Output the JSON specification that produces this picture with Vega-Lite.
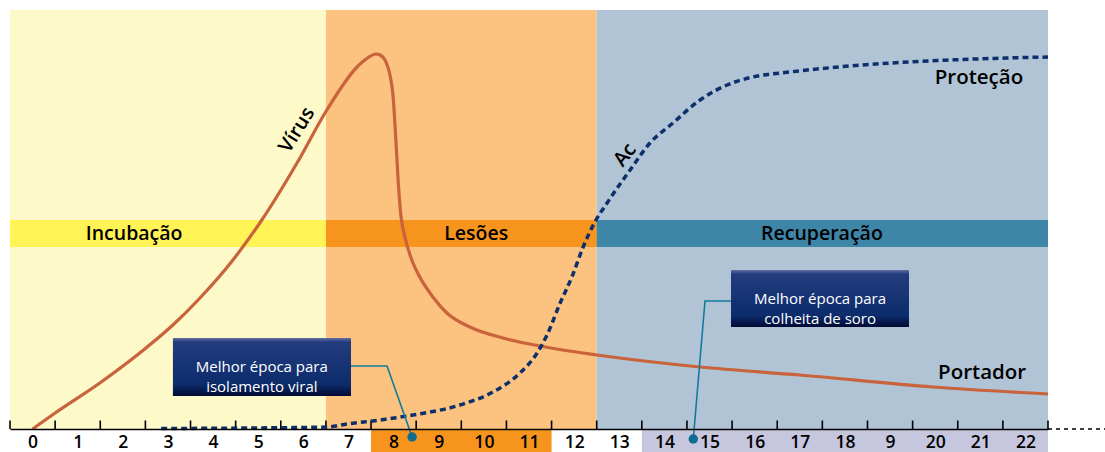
{
  "$schema": "https://vega.github.io/schema/vega-lite/v6.json",
  "width": 1038,
  "height": 419,
  "autosize": {"type": "none"},
  "padding": {"left": 10, "top": 10, "right": 57, "bottom": 23},
  "background": "white",
  "config": {"view": {"stroke": null}, "axisY": {"disable": true}},
  "datasets": {
    "fases": [
      {"fase": "Incubação", "inicio": -0.5, "fim": 6.5, "rotulo_x": 2.25},
      {"fase": "Lesões", "inicio": 6.5, "fim": 12.5, "rotulo_x": 9.83},
      {"fase": "Recuperação", "inicio": 12.5, "fim": 22.5, "rotulo_x": 17.49}
    ],
    "marcas": [
      {"pos": -0.5}, {"pos": 0.5}, {"pos": 1.5}, {"pos": 2.5}, {"pos": 3.5}, {"pos": 4.5}, {"pos": 5.5}, {"pos": 6.5},
      {"pos": 7.5}, {"pos": 8.5}, {"pos": 9.5}, {"pos": 10.5}, {"pos": 11.5}, {"pos": 12.5}, {"pos": 13.5}, {"pos": 14.5},
      {"pos": 15.5}, {"pos": 16.5}, {"pos": 17.5}, {"pos": 18.5}, {"pos": 19.5}, {"pos": 20.5}, {"pos": 21.5}, {"pos": 22.5}
    ],
    "virus": [
      {"dia": 0.0, "carga": 0},
      {"dia": 0.5, "carga": 16},
      {"dia": 1.49, "carga": 46},
      {"dia": 2.54, "carga": 82},
      {"dia": 3.11, "carga": 104},
      {"dia": 3.71, "carga": 131},
      {"dia": 4.44, "carga": 169},
      {"dia": 5.08, "carga": 209},
      {"dia": 5.86, "carga": 266},
      {"dia": 6.52, "carga": 319},
      {"dia": 7.19, "carga": 362},
      {"dia": 7.39, "carga": 370},
      {"dia": 7.61, "carga": 375},
      {"dia": 7.70, "carga": 374},
      {"dia": 7.83, "carga": 367},
      {"dia": 7.92, "carga": 354},
      {"dia": 7.99, "carga": 332},
      {"dia": 8.05, "carga": 289},
      {"dia": 8.10, "carga": 249},
      {"dia": 8.16, "carga": 214},
      {"dia": 8.25, "carga": 192},
      {"dia": 8.43, "carga": 166},
      {"dia": 8.58, "carga": 152},
      {"dia": 8.87, "carga": 132},
      {"dia": 9.18, "carga": 116},
      {"dia": 9.69, "carga": 102},
      {"dia": 10.42, "carga": 91},
      {"dia": 11.24, "carga": 83},
      {"dia": 12.51, "carga": 74},
      {"dia": 14.79, "carga": 62},
      {"dia": 17.0, "carga": 54},
      {"dia": 19.95, "carga": 42},
      {"dia": 22.5, "carga": 35}
    ],
    "ac": [
      {"dia": 2.85, "nivel": 0.5},
      {"dia": 4.82, "nivel": 1},
      {"dia": 6.52, "nivel": 2},
      {"dia": 6.97, "nivel": 5},
      {"dia": 7.70, "nivel": 9},
      {"dia": 8.43, "nivel": 14},
      {"dia": 9.47, "nivel": 24},
      {"dia": 10.20, "nivel": 37},
      {"dia": 10.80, "nivel": 56},
      {"dia": 11.18, "nivel": 76},
      {"dia": 11.40, "nivel": 94},
      {"dia": 11.69, "nivel": 126},
      {"dia": 11.95, "nivel": 152},
      {"dia": 12.20, "nivel": 182},
      {"dia": 12.46, "nivel": 207},
      {"dia": 12.73, "nivel": 226},
      {"dia": 13.24, "nivel": 259},
      {"dia": 13.68, "nivel": 286},
      {"dia": 14.19, "nivel": 306},
      {"dia": 14.79, "nivel": 329},
      {"dia": 15.39, "nivel": 344},
      {"dia": 15.96, "nivel": 352},
      {"dia": 16.78, "nivel": 357},
      {"dia": 18.11, "nivel": 363},
      {"dia": 20.33, "nivel": 369},
      {"dia": 22.5, "nivel": 372}
    ],
    "destaques": [
      {"tipo": "isolamento", "de": 7.5, "ate": 11.5},
      {"tipo": "soro", "de": 13.5, "ate": 22.5}
    ],
    "caixas": [
      {"tipo": "isolamento", "x1": 3.11, "x2": 7.056, "y1": 33, "y2": 91, "cx": 5.08, "cy": 62, "texto": "Melhor época para\nisolamento viral"},
      {"tipo": "soro", "x1": 15.476, "x2": 19.42, "y1": 102, "y2": 159, "cx": 17.45, "cy": 130.5, "texto": "Melhor época para\ncolheita de soro"}
    ],
    "guias": [
      {"tipo": "isolamento", "ordem": 1, "dia": 7.056, "v": 63},
      {"tipo": "isolamento", "ordem": 2, "dia": 7.854, "v": 63},
      {"tipo": "isolamento", "ordem": 3, "dia": 8.41, "v": -8},
      {"tipo": "soro", "ordem": 1, "dia": 15.476, "v": 128},
      {"tipo": "soro", "ordem": 2, "dia": 14.90, "v": 128},
      {"tipo": "soro", "ordem": 3, "dia": 14.64, "v": -10}
    ],
    "rotulos": [
      {"texto": "Proteção", "dia": 20.97, "v": 351},
      {"texto": "Portador", "dia": 21.04, "v": 56}
    ]
  },
  "resolve": {"scale": {"color": "independent"}},
  "layer": [
    {
      "data": {"name": "fases"},
      "mark": {"type": "rect"},
      "encoding": {
        "x": {"field": "inicio", "type": "quantitative", "title": null,
          "scale": {"domain": [-0.5, 22.5], "nice": false, "zero": false},
          "axis": {
            "orient": "bottom",
            "values": [0, 1, 2, 3, 4, 5, 6, 7, 8, 9, 10, 11, 12, 13, 14, 15, 16, 17, 18, 19, 20, 21, 22],
            "labelExpr": "datum.value === 19 ? '9' : datum.label",
            "ticks": false,
            "tickSize": 0,
            "domainColor": "black",
            "domainWidth": 1.5,
            "labelFont": "Open Sans",
            "labelFontSize": 17.5,
            "labelFontWeight": 600,
            "labelColor": "black",
            "labelBaseline": "alphabetic",
            "labelPadding": 18.5,
            "labelOverlap": false,
            "labelBound": false,
            "labelFlush": false,
            "grid": false,
            "zindex": 1
          }},
        "x2": {"field": "fim"},
        "y": {"datum": 0, "type": "quantitative", "scale": {"domain": [0, 419], "nice": false, "zero": false}, "axis": null},
        "y2": {"datum": 419},
        "color": {"field": "fase", "type": "nominal", "legend": null,
          "scale": {"domain": ["Incubação", "Lesões", "Recuperação"], "range": ["#FEF9C9", "#FCC280", "#B1C4D6"]}}
      }
    },
    {
      "data": {"name": "fases"},
      "mark": {"type": "rect"},
      "encoding": {
        "x": {"field": "inicio", "type": "quantitative", "title": null},
        "x2": {"field": "fim"},
        "y": {"datum": 182, "type": "quantitative", "axis": null},
        "y2": {"datum": 209},
        "color": {"field": "fase", "type": "nominal", "legend": null,
          "scale": {"domain": ["Incubação", "Lesões", "Recuperação"], "range": ["#FFF356", "#F7941E", "#3D86A8"]}}
      }
    },
    {
      "data": {"name": "fases"},
      "mark": {"type": "text", "font": "Open Sans", "fontSize": 19.5, "fontWeight": 600, "color": "black", "align": "center", "baseline": "middle"},
      "encoding": {
        "x": {"field": "rotulo_x", "type": "quantitative", "title": null},
        "y": {"datum": 195.5, "type": "quantitative", "axis": null},
        "text": {"field": "fase"}
      }
    },
    {
      "data": {"name": "destaques"},
      "mark": {"type": "rect"},
      "encoding": {
        "x": {"field": "de", "type": "quantitative", "title": null},
        "x2": {"field": "ate"},
        "y": {"datum": -23, "type": "quantitative", "axis": null},
        "y2": {"datum": 0},
        "color": {"field": "tipo", "type": "nominal", "legend": null,
          "scale": {"domain": ["isolamento", "soro"], "range": ["#F7941E", "#C6C7DF"]}}
      }
    },
    {
      "data": {"name": "marcas"},
      "mark": {"type": "rule", "color": "black", "strokeWidth": 1.6},
      "encoding": {
        "x": {"field": "pos", "type": "quantitative", "title": null},
        "y": {"datum": 0, "type": "quantitative", "axis": null},
        "y2": {"datum": 8.5}
      }
    },
    {
      "data": {"name": "virus"},
      "mark": {"type": "line", "color": "#C8633B", "strokeWidth": 3.2, "interpolate": "monotone"},
      "encoding": {
        "x": {"field": "dia", "type": "quantitative", "title": null},
        "y": {"field": "carga", "type": "quantitative", "axis": null}
      }
    },
    {
      "data": {"name": "ac"},
      "mark": {"type": "line", "color": "#0D2F6B", "strokeWidth": 3.5, "strokeDash": [6, 4], "interpolate": "monotone"},
      "encoding": {
        "x": {"field": "dia", "type": "quantitative", "title": null},
        "y": {"field": "nivel", "type": "quantitative", "axis": null}
      }
    },
    {
      "data": {"values": [{"texto": "Vírus", "dia": 5.86, "v": 299}]},
      "mark": {"type": "text", "font": "Open Sans", "fontSize": 20, "fontWeight": 600, "color": "black", "angle": 302, "align": "center", "baseline": "middle"},
      "encoding": {
        "x": {"field": "dia", "type": "quantitative", "title": null},
        "y": {"field": "v", "type": "quantitative", "axis": null},
        "text": {"field": "texto"}
      }
    },
    {
      "data": {"values": [{"texto": "Ac", "dia": 13.13, "v": 274}]},
      "mark": {"type": "text", "font": "Open Sans", "fontSize": 20, "fontWeight": 600, "color": "black", "angle": 308, "align": "center", "baseline": "middle"},
      "encoding": {
        "x": {"field": "dia", "type": "quantitative", "title": null},
        "y": {"field": "v", "type": "quantitative", "axis": null},
        "text": {"field": "texto"}
      }
    },
    {
      "data": {"name": "rotulos"},
      "mark": {"type": "text", "font": "Open Sans", "fontSize": 20.5, "fontWeight": 600, "color": "black", "align": "center", "baseline": "middle"},
      "encoding": {
        "x": {"field": "dia", "type": "quantitative", "title": null},
        "y": {"field": "v", "type": "quantitative", "axis": null},
        "text": {"field": "texto"}
      }
    },
    {
      "data": {"name": "guias"},
      "mark": {"type": "line", "color": "#117B9D", "strokeWidth": 1.6},
      "encoding": {
        "x": {"field": "dia", "type": "quantitative", "title": null},
        "y": {"field": "v", "type": "quantitative", "axis": null},
        "detail": {"field": "tipo"},
        "order": {"field": "ordem"}
      }
    },
    {
      "data": {"name": "caixas"},
      "mark": {"type": "rect",
        "fill": {"gradient": "linear", "x1": 0, "y1": 0, "x2": 0, "y2": 1,
          "stops": [{"offset": 0, "color": "#6370A3"}, {"offset": 0.07, "color": "#233C7E"}, {"offset": 0.8, "color": "#0C2C6C"}, {"offset": 1, "color": "#010A33"}]}},
      "encoding": {
        "x": {"field": "x1", "type": "quantitative", "title": null},
        "x2": {"field": "x2"},
        "y": {"field": "y1", "type": "quantitative", "axis": null},
        "y2": {"field": "y2"}
      }
    },
    {
      "data": {"name": "caixas"},
      "mark": {"type": "text", "font": "Open Sans", "fontSize": 15, "color": "white", "align": "center", "baseline": "middle", "lineBreak": "\n", "lineHeight": 20},
      "encoding": {
        "x": {"field": "cx", "type": "quantitative", "title": null},
        "y": {"field": "cy", "type": "quantitative", "axis": null},
        "text": {"field": "texto"}
      }
    },
    {
      "data": {"name": "guias"},
      "transform": [{"filter": "datum.ordem === 3"}],
      "mark": {"type": "point", "filled": true, "color": "#0F6E8F", "opacity": 1, "size": 90},
      "encoding": {
        "x": {"field": "dia", "type": "quantitative", "title": null},
        "y": {"field": "v", "type": "quantitative", "axis": null}
      }
    },
    {
      "data": {"values": [{"de": 22.5, "ate": 23.8}]},
      "mark": {"type": "rule", "color": "black", "strokeWidth": 1.5, "strokeDash": [4, 4]},
      "encoding": {
        "x": {"field": "de", "type": "quantitative", "title": null},
        "x2": {"field": "ate"},
        "y": {"datum": 0, "type": "quantitative", "axis": null}
      }
    }
  ]
}
